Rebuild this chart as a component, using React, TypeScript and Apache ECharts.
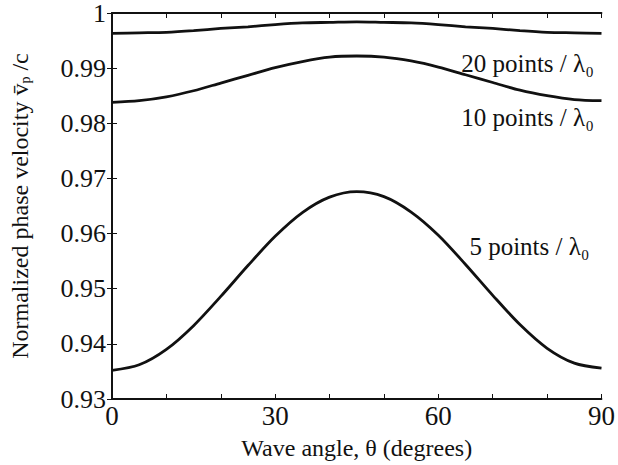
import React, { useEffect, useRef } from "react";
import * as echarts from "echarts";

const angles = [0, 5, 10, 15, 20, 25, 30, 35, 40, 45, 50, 55, 60, 65, 70, 75, 80, 85, 90];
const pts20 = [0.9963, 0.9964, 0.9965, 0.9968, 0.9972, 0.9975, 0.9979, 0.9982, 0.9983, 0.9984, 0.9983, 0.9982, 0.9979, 0.9975, 0.9972, 0.9968, 0.9965, 0.9964, 0.9963];
const pts10 = [0.9838, 0.9841, 0.9848, 0.9859, 0.9873, 0.9887, 0.9901, 0.9912, 0.992, 0.9922, 0.992, 0.9913, 0.9902, 0.9888, 0.9874, 0.986, 0.985, 0.9843, 0.9841];
const pts5 = [0.9352, 0.9362, 0.939, 0.9433, 0.9486, 0.9542, 0.9595, 0.9638, 0.9666, 0.9676, 0.9667, 0.9639, 0.9597, 0.9544, 0.9488, 0.9435, 0.9392, 0.9365, 0.9356];
const curveLabels = ["20 points / λ₀", "10 points / λ₀", "5 points / λ₀"];
const labelAngles = [88.6, 88.6, 87.8];
const labelValues = [0.9909, 0.981, 0.9576];
const xTickLabels = [0, 30, 60, 90];

const FONT = "Liberation Serif";
const INK = "#111";

export default function App() {
  const ref = useRef<HTMLDivElement>(null);
  useEffect(() => {
    const chart = echarts.init(ref.current!, null, { renderer: "svg" });
    const mk = (vals: number[]) => angles.map((a, i) => [a, vals[i]]);
    const lineSeries = (name: string, vals: number[]) => ({
      name,
      type: "line",
      data: mk(vals),
      smooth: 0.3,
      showSymbol: false,
      symbol: "none",
      lineStyle: { color: INK, width: 2.8 },
      xAxisIndex: 0,
      yAxisIndex: 0,
    });
    const axisLine = { show: true, lineStyle: { color: INK, width: 1.8 } };
    const axisTick = { show: true, inside: true, length: 5, lineStyle: { color: INK, width: 1 } };
    chart.setOption({
      animation: false,
      backgroundColor: "#fff",
      grid: { left: 107, right: 13, top: 13, bottom: 61, containLabel: false },
      xAxis: [
        {
          type: "value",
          min: 0,
          max: 90,
          interval: 10,
          position: "bottom",
          axisLine,
          axisTick,
          splitLine: { show: false },
          axisLabel: {
            color: INK,
            fontFamily: FONT,
            fontSize: 27,
            margin: 3,
            formatter: (v: number) => (xTickLabels.includes(v) ? String(v) : ""),
          },
          name: "Wave angle, θ (degrees)",
          nameLocation: "middle",
          nameGap: 37,
          nameTextStyle: { color: INK, fontFamily: FONT, fontSize: 24 },
        },
        {
          type: "value",
          min: 0,
          max: 90,
          interval: 10,
          position: "top",
          axisLine,
          axisTick,
          splitLine: { show: false },
          axisLabel: { show: false },
        },
      ],
      yAxis: [
        {
          type: "value",
          min: 0.93,
          max: 1,
          interval: 0.01,
          position: "left",
          axisLine,
          axisTick,
          splitLine: { show: false },
          axisLabel: {
            color: INK,
            fontFamily: FONT,
            fontSize: 26,
            margin: 6,
            formatter: (v: number) => String(parseFloat(v.toFixed(2))),
          },
          name: "Normalized phase velocity {v|v̄}{sub|p}{v| /c}",
          nameLocation: "middle",
          nameRotate: 90,
          nameGap: 80,
          nameTextStyle: {
            color: INK,
            fontFamily: FONT,
            fontSize: 24,
            rich: {
              v: { color: INK, fontFamily: FONT, fontSize: 24 },
              sub: { color: INK, fontFamily: FONT, fontSize: 14, verticalAlign: "bottom", padding: [10, 0, 0, 0] },
            },
          },
        },
        {
          type: "value",
          min: 0.93,
          max: 1,
          interval: 0.01,
          position: "right",
          axisLine,
          axisTick,
          splitLine: { show: false },
          axisLabel: { show: false },
        },
      ],
      series: [
        lineSeries("20 points", pts20),
        lineSeries("10 points", pts10),
        lineSeries("5 points", pts5),
        {
          type: "scatter",
          data: labelAngles.map((a, i) => ({ value: [a, labelValues[i]], name: curveLabels[i] })),
          symbolSize: 0,
          silent: true,
          itemStyle: { opacity: 1, color: INK },
          label: {
            show: true,
            position: "left",
            distance: 0,
            formatter: (p: any) => p.name,
            color: INK,
            opacity: 1,
            fontFamily: FONT,
            fontSize: 25,
          },
        },
      ],
    });
    return () => chart.dispose();
  }, []);
  return <div ref={ref} style={{ width: 618, height: 465, position: "absolute", left: 0, top: 0 }} />;
}
